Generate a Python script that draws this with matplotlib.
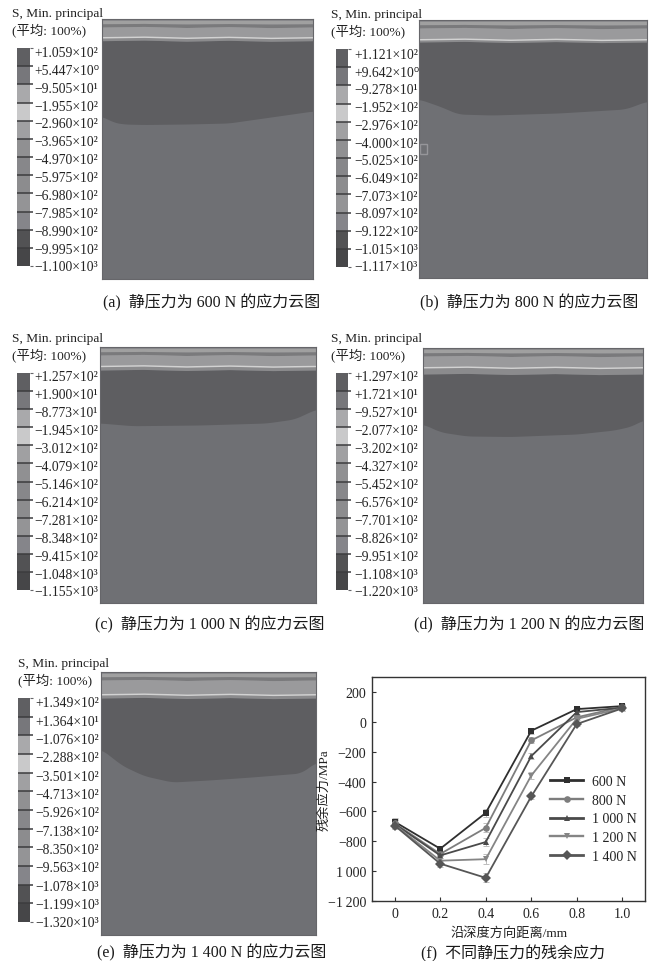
# -*- coding: utf-8 -*-
import numpy as np
import matplotlib
matplotlib.use('Agg')
import matplotlib.pyplot as plt
from matplotlib.colors import ListedColormap
from matplotlib.patches import Rectangle

plt.rcParams['font.family'] = ['Liberation Serif', 'Noto Sans CJK SC', 'DejaVu Sans']
plt.rcParams['axes.unicode_minus'] = False

W, H = 657, 962

# stress labels of the colour legends
labels_a = ['+1.059×10²', '+5.447×10⁰', '−9.505×10¹', '−1.955×10²', '−2.960×10²', '−3.965×10²', '−4.970×10²',
            '−5.975×10²', '−6.980×10²', '−7.985×10²', '−8.990×10²', '−9.995×10²', '−1.100×10³']
labels_b = ['+1.121×10²', '+9.642×10⁰', '−9.278×10¹', '−1.952×10²', '−2.976×10²', '−4.000×10²', '−5.025×10²',
            '−6.049×10²', '−7.073×10²', '−8.097×10²', '−9.122×10²', '−1.015×10³', '−1.117×10³']
labels_c = ['+1.257×10²', '+1.900×10¹', '−8.773×10¹', '−1.945×10²', '−3.012×10²', '−4.079×10²', '−5.146×10²',
            '−6.214×10²', '−7.281×10²', '−8.348×10²', '−9.415×10²', '−1.048×10³', '−1.155×10³']
labels_d = ['+1.297×10²', '+1.721×10¹', '−9.527×10¹', '−2.077×10²', '−3.202×10²', '−4.327×10²', '−5.452×10²',
            '−6.576×10²', '−7.701×10²', '−8.826×10²', '−9.951×10²', '−1.108×10³', '−1.220×10³']
labels_e = ['+1.349×10²', '+1.364×10¹', '−1.076×10²', '−2.288×10²', '−3.501×10²', '−4.713×10²', '−5.926×10²',
            '−7.138×10²', '−8.350×10²', '−9.563×10²', '−1.078×10³', '−1.199×10³', '−1.320×10³']

# greys of the 12 legend bands, top to bottom
band_colors = ['#5f5f62', '#77777b', '#a9a9ab', '#c9c9ca', '#a0a0a2', '#909092',
               '#87878a', '#8c8c8e', '#949496', '#85858a', '#525254', '#464648']

# edge of the dark zone (fraction of width, depth in px)
edge_x_a = [0, .05, .1, .2, .4, .6, .8, 1]
edge_d_a = [97, 103, 105, 105.5, 105, 104, 98, 92]
edge_x_b = [0, .1, .17, .32, .61, .905, 1]
edge_d_b = [79, 87, 94, 95, 93, 89, 81]
edge_x_c = [0, .15, .46, .77, .9, 1]
edge_d_c = [76, 78.7, 78, 76, 72, 62]
edge_x_d = [0, .08, .2, .4, .7, .87, .95, 1]
edge_d_d = [76, 84, 88, 88.5, 86, 82, 78, 71.7]
edge_x_e = [0, .1, .2, .33, .5, .7, .93, 1]
edge_d_e = [77, 93.7, 103.7, 110, 108, 105, 101, 90]

# strip at the top surface: depth of the white line and start of the dark zone
strip_a = [18, 21.7]
strip_b = [19, 22]
strip_c = [18.7, 23]
strip_d = [19, 26]
strip_e = [22, 26]
strip_wave_x = [0, .2, .4, .6, .8, 1]
strip_wave = [0, -.6, .5, -.4, .6, 0]

# residual stress
depth = [0, 0.2, 0.4, 0.6, 0.8, 1.0]
s600 = [-670, -850, -610, -60, 85, 105]
s800 = [-680, -885, -710, -125, 30, 100]
s1000 = [-685, -895, -805, -230, 65, 95]
s1200 = [-690, -930, -920, -360, 20, 90]
s1400 = [-695, -950, -1045, -500, -15, 90]
err600 = [25, 15, 25, 20, 15, 15]
err800 = [30, 15, 30, 20, 15, 15]
err1000 = [25, 15, 30, 20, 15, 15]
err1200 = [30, 20, 35, 25, 20, 15]
err1400 = [25, 20, 30, 15, 15, 15]
yticks = [200, 0, -200, -400, -600, -800, -1000, -1200]
yticklabels = ['200', '0', '−200', '−400', '−600', '−800', '1\u2009000', '−1\u2009200']
xticks = [0, 0.2, 0.4, 0.6, 0.8, 1.0]
xticklabels = ['0', '0.2', '0.4', '0.6', '0.8', '1.0']

fig = plt.figure(figsize=(W / 100, H / 100), dpi=100)


def px_axes(x0, y0, x1, y1):
    return fig.add_axes([x0 / W, 1 - y1 / H, (x1 - x0) / W, (y1 - y0) / H])


def contour(box, edge_x, edge_d, strip):
    x0, y0, x1, y1 = box
    h = y1 - y0
    ax = px_axes(*box)
    ax.set_xlim(0, 1)
    ax.set_ylim(h, 0)
    ax.set_facecolor('#6f7074')
    xx = np.linspace(0, 1, 200)
    wave = np.interp(xx, strip_wave_x, strip_wave)
    # round off the corners of the read edge
    edge = np.interp(xx, edge_x, edge_d)
    edge = np.convolve(np.pad(edge, 6, mode='edge'), np.ones(13) / 13, mode='valid')
    white, dark = strip
    ax.fill_between(xx, edge, dark + wave, color='#5e5e61', lw=0)
    ax.fill_between(xx, 0, dark + wave, color='#8b8b8d', lw=0)
    ax.fill_between(xx, 1.5, 4.5, color='#a0a0a0', lw=0)
    ax.fill_between(xx, 5 + wave, 8 + wave, color='#7a7a7c', lw=0)
    ax.fill_between(xx, 8 + wave, white - .5 + wave, color='#9a9a9c', lw=0)
    ax.fill_between(xx, white - .5 + wave, white + 1 + wave, color='#d2d2d2', lw=0)
    for s in ax.spines.values():
        s.set_color('#66666a')
        s.set_linewidth(.8)
    ax.set_xticks([])
    ax.set_yticks([])
    return ax


def colorbar(box, labels, label_x, y_first, y_last):
    x0, y0, x1, y1 = box
    ax = px_axes(*box)
    cmap = ListedColormap(band_colors)
    ax.pcolormesh([0, 1], np.arange(13), np.arange(12).reshape(-1, 1), cmap=cmap, shading='flat')
    ax.set_ylim(12, 0)
    ax.set_xlim(0, 1)
    ax.axis('off')
    ax.hlines(np.arange(1, 12), 0, 1.25, color='#3c3c3e', lw=1.1, clip_on=False)
    ax.hlines([0, 12], 1, 1.25, color='#66666a', lw=.8, clip_on=False)
    for lab, y in zip(labels, np.linspace(y_first, y_last, 13)):
        txt.text(label_x, y, lab, fontsize=9.8, color='#222222', va='center', ha='left')


# axes for free text, in pixels of the picture
txt = fig.add_axes([0, 0, 1, 1], zorder=5)
txt.set_xlim(0, W)
txt.set_ylim(H, 0)
txt.axis('off')

contour((102, 20, 313, 280), edge_x_a, edge_d_a, strip_a)
ax_b = contour((419, 21, 647, 279), edge_x_b, edge_d_b, strip_b)
contour((100, 348, 316, 604), edge_x_c, edge_d_c, strip_c)
contour((423, 349, 643, 604), edge_x_d, edge_d_d, strip_d)
contour((101, 673, 316, 936), edge_x_e, edge_d_e, strip_e)
ax_b.add_patch(Rectangle((0.003, 124), 0.03, 10, fill=False, ec='#96969a', lw=1))

colorbar((17, 49, 30, 267), labels_a, 34, 53.5, 268)
colorbar((336, 50, 348, 268), labels_b, 354, 55.5, 268)
colorbar((17, 374, 30, 591), labels_c, 34, 378, 593)
colorbar((336, 374, 348, 591), labels_d, 354, 378, 593)
colorbar((18, 699, 30, 923), labels_e, 35, 704, 924)

heads = [(12, 14), (331, 15), (12, 339), (331, 339), (18, 664)]
for x, y in heads:
    txt.text(x, y, 'S, Min. principal', fontsize=9.6, color='#222222', va='center')
    txt.text(x, y + 16.5, '(平均: 100%)', fontsize=9.6, color='#222222', va='center')

captions = [(212, 302.5, '(a)  静压力为 600 N 的应力云图'), (529, 302.5, '(b)  静压力为 800 N 的应力云图'),
            (210, 624.5, '(c)  静压力为 1 000 N 的应力云图'), (529, 624.5, '(d)  静压力为 1 200 N 的应力云图'),
            (212, 953, '(e)  静压力为 1 400 N 的应力云图'), (513, 954, '(f)  不同静压力的残余应力')]
for x, y, s in captions:
    txt.text(x, y, s, fontsize=11.5, color='#1a1a1a', ha='center', va='center')

# residual stress plot
ax = px_axes(372, 678, 645, 902)
series = [(s600, err600, '600 N', '#2f2f2f', 's', 2.0), (s800, err800, '800 N', '#7d7d7d', 'o', 1.7),
          (s1000, err1000, '1 000 N', '#4a4a4a', '^', 2.0), (s1200, err1200, '1 200 N', '#858585', 'v', 1.7),
          (s1400, err1400, '1 400 N', '#565656', 'D', 2.0)]
for vals, err, lab, c, m, lw in series:
    ax.errorbar(depth, vals, yerr=err, fmt='none', ecolor='#bdbdbd', elinewidth=.7, capsize=2, capthick=.7, zorder=1)
    ax.plot(depth, vals, color=c, lw=1.3, marker=m, ms=4.8, mew=0, zorder=2, label=lab)
ax.set_xlim(-0.1, 1.1)
ax.set_ylim(-1200, 300)
ax.set_xticks(xticks)
ax.set_xticklabels(xticklabels, fontsize=10, color='#222222')
ax.set_yticks(yticks)
ax.set_yticklabels(yticklabels, fontsize=10, color='#222222')
ax.tick_params(direction='in', length=3, width=.8, color='#333333', pad=4)
for s in ax.spines.values():
    s.set_color('#333333')
    s.set_linewidth(1)
leg = ax.legend(loc='upper left', bbox_to_anchor=(0.652, 0.5625), frameon=False, fontsize=10,
                handlelength=2.4, handletextpad=.65, labelspacing=.41, borderpad=0, borderaxespad=0,
                labelcolor='#222222')
for line, (_, _, _, _, _, lw) in zip(leg.get_lines(), series):
    line.set_linewidth(lw)

txt.text(509, 934, '沿深度方向距离/mm', fontsize=9.5, color='#222222', ha='center', va='center')
txt.text(324, 790, '残余应力/MPa', fontsize=9.5, color='#222222', ha='center', va='center', rotation=90)

fig.savefig('out.png', dpi=100)
